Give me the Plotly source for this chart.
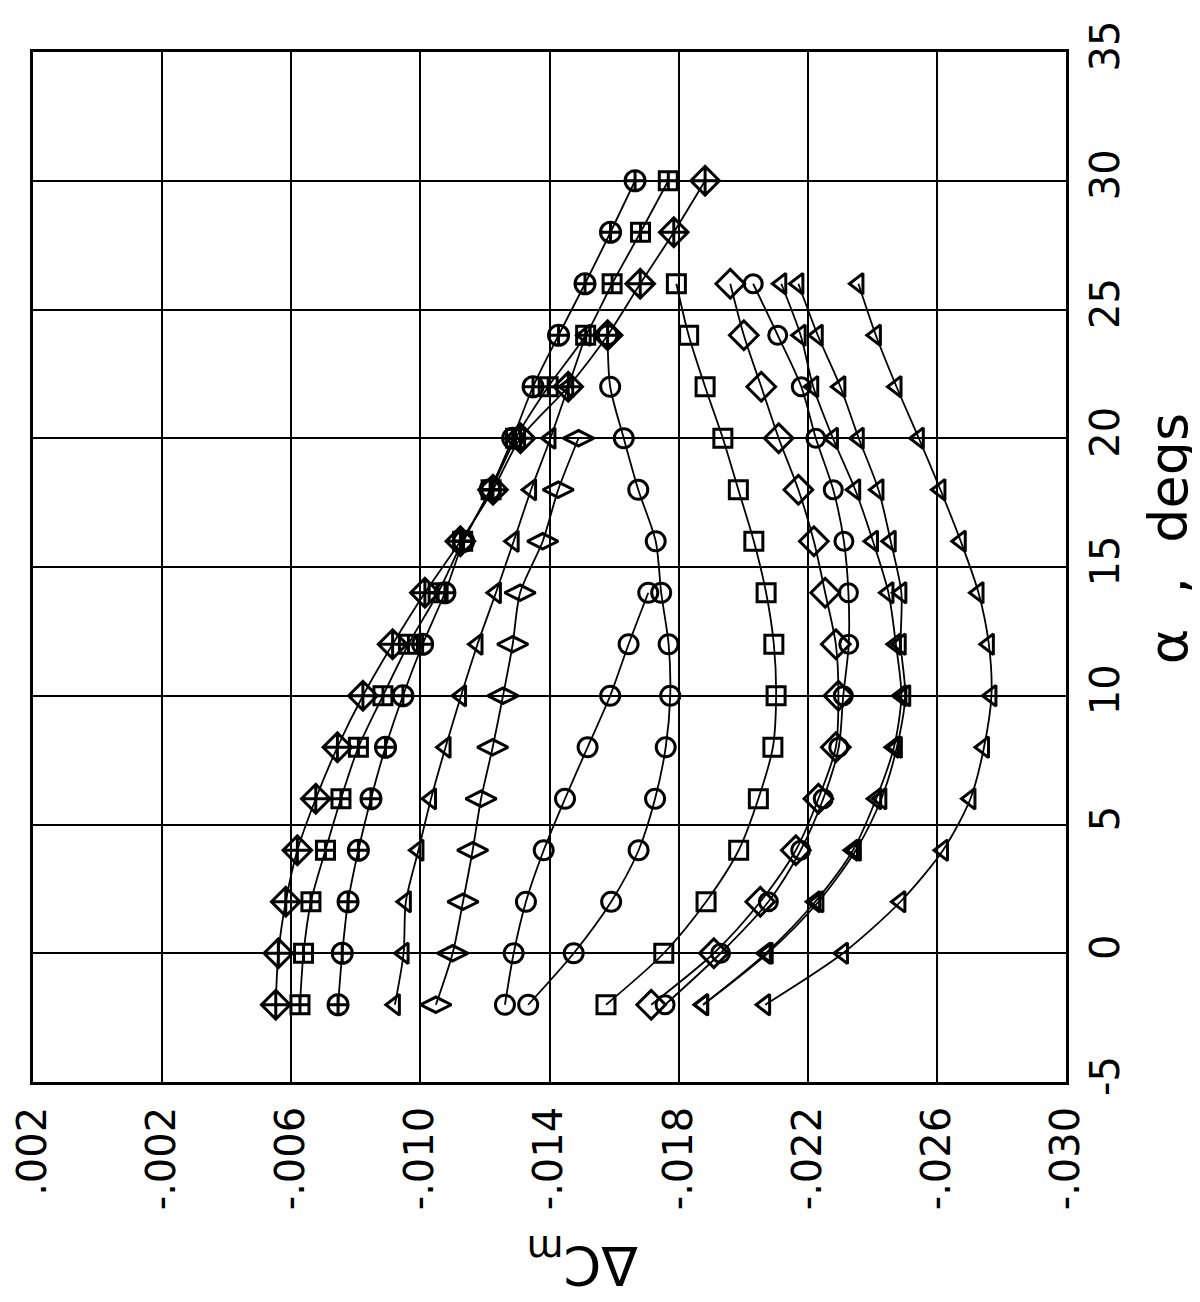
import plotly.graph_objects as go

# ---------------- data (alpha in degrees, delta Cm) ----------------
alpha_L = [-2, 0, 2, 4, 6, 8, 10, 12, 14, 16, 18, 20, 22, 24, 26, 28, 30]
dcm_L_circle = [-0.00745, -0.00758, -0.00776, -0.00808, -0.00847, -0.00892, -0.00946, -0.01007,
                -0.01076, -0.01134, -0.01216, -0.01286, -0.01349, -0.01428, -0.01510, -0.01589, -0.01665]
dcm_L_square = [-0.00627, -0.00638, -0.00661, -0.00706, -0.00754, -0.00808, -0.00884, -0.00963,
                -0.01055, -0.01131, -0.01219, -0.01295, -0.01396, -0.01512, -0.01594, -0.01682, -0.01768]
dcm_L_diamond = [-0.00552, -0.00560, -0.00583, -0.00619, -0.00676, -0.00743, -0.00822, -0.00914,
                 -0.01014, -0.01124, -0.01225, -0.01310, -0.01458, -0.01580, -0.01681, -0.01785, -0.01882]

alpha_M1 = [-2, 0, 2, 4, 6, 8, 10, 12, 14, 16, 18, 20, 22, 24]
dcm_M1 = [-0.00921, -0.00948, -0.00955, -0.00994, -0.01033, -0.01078, -0.01126, -0.01177,
          -0.01234, -0.01289, -0.01343, -0.01403, -0.01458, -0.01512]
alpha_M2 = [-2, 0, 2, 4, 6, 8, 10, 12, 14, 16, 18, 20]
dcm_M2 = [-0.01048, -0.01100, -0.01132, -0.01162, -0.01188, -0.01224, -0.01256, -0.01286,
          -0.01309, -0.01379, -0.01427, -0.01490]
alpha_M3 = [-2, 0, 2, 4, 6, 8, 10, 12, 14]
dcm_M3 = [-0.01262, -0.01289, -0.01327, -0.01382, -0.01448, -0.01518, -0.01588, -0.01645, -0.01706]
alpha_M4 = [-2, 0, 2, 4, 6, 8, 10, 12, 14, 16, 18, 20, 22, 24]
dcm_M4 = [-0.01334, -0.01475, -0.01591, -0.01676, -0.01727, -0.01760, -0.01774, -0.01769,
          -0.01746, -0.01729, -0.01675, -0.01630, -0.01588, -0.01580]

alpha_R = [-2, 0, 2, 4, 6, 8, 10, 12, 14, 16, 18, 20, 22, 24, 26]
dcm_R1 = [-0.01575, -0.01754, -0.01885, -0.01986, -0.02047, -0.02092, -0.02102, -0.02095,
          -0.02071, -0.02033, -0.01985, -0.01937, -0.01882, -0.01831, -0.01793]
dcm_R2 = [-0.01715, -0.01909, -0.02053, -0.02163, -0.02233, -0.02287, -0.02295, -0.02287,
          -0.02254, -0.02219, -0.02171, -0.02110, -0.02056, -0.02002, -0.01960]
dcm_R3 = [-0.01758, -0.01930, -0.02078, -0.02178, -0.02248, -0.02296, -0.02310, -0.02327,
          -0.02326, -0.02312, -0.02279, -0.02225, -0.02180, -0.02107, -0.02031]
dcm_R4 = [-0.01876, -0.02070, -0.02223, -0.02340, -0.02412, -0.02467, -0.02490, -0.02473,
          -0.02450, -0.02402, -0.02347, -0.02278, -0.02217, -0.02178, -0.02118]
dcm_R4b = [-0.01876, -0.02076, -0.02233, -0.02349, -0.02428, -0.02476, -0.02502, -0.02488,
           -0.02490, -0.02457, -0.02419, -0.02358, -0.02301, -0.02231, -0.02171]
dcm_R5 = [-0.02068, -0.02309, -0.02487, -0.02619, -0.02704, -0.02746, -0.02769, -0.02761,
          -0.02729, -0.02674, -0.02611, -0.02544, -0.02475, -0.02411, -0.02357]

x_tickvals = [0.002, -0.002, -0.006, -0.010, -0.014, -0.018, -0.022, -0.026, -0.030]
x_ticktext = [".002", "-.002", "-.006", "-.010", "-.014", "-.018", "-.022", "-.026", "-.030"]
y_tickvals = [-5, 0, 5, 10, 15, 20, 25, 30, 35]
y_ticktext = ["-5", "0", "5", "10", "15", "20", "25", "30", "35"]

series = [
    (dcm_L_circle, alpha_L, "circle-cross-open", 20),
    (dcm_L_square, alpha_L, "square-cross-open", 18),
    (dcm_L_diamond, alpha_L, "diamond-cross-open", 22),
    (dcm_M1, alpha_M1, "triangle-left-open", 18),
    (dcm_M2, alpha_M2, "diamond-wide-open", 22),
    (dcm_M3, alpha_M3, "circle-open", 19),
    (dcm_M4, alpha_M4, "circle-open", 19),
    (dcm_R1, alpha_R, "square-open", 18),
    (dcm_R2, alpha_R, "diamond-open", 22),
    (dcm_R3, alpha_R, "circle-open", 18),
    (dcm_R4, alpha_R, "triangle-left-open", 18),
    (dcm_R4b, alpha_R, "triangle-left-open", 18),
    (dcm_R5, alpha_R, "triangle-left-open", 18),
]

fig = go.Figure()
for xs, ys, sym, sz in series:
    fig.add_trace(go.Scatter(
        x=xs, y=ys, mode="lines+markers",
        line=dict(color="black", width=1.8, shape="spline", smoothing=0.8),
        marker=dict(symbol=sym, size=sz, color="black", line=dict(color="black", width=3)),
        showlegend=False, hoverinfo="skip"))

FONT = "DejaVu Sans, Liberation Sans, sans-serif"
tick_font = dict(family=FONT, size=40, color="black")

fig.update_layout(
    width=1192, height=1294,
    margin=dict(l=25, r=134, t=44, b=220, autoexpand=False),
    paper_bgcolor="white", plot_bgcolor="white",
    xaxis=dict(range=[0.002, -0.030], tickvals=x_tickvals, ticktext=x_ticktext,
               tickangle=-90, tickfont=tick_font, ticks="", ticklabelstandoff=6,
               automargin=False,
               showgrid=True, gridcolor="black", gridwidth=2.2, zeroline=False,
               showline=True, linecolor="black", linewidth=2.6, mirror=True),
    yaxis=dict(range=[-5, 35], tickvals=y_tickvals, ticktext=y_ticktext, side="right",
               tickangle=-90, tickfont=tick_font, ticks="", ticklabelstandoff=2,
               automargin=False,
               showgrid=True, gridcolor="black", gridwidth=2.2, zeroline=False,
               showline=True, linecolor="black", linewidth=2.6, mirror=True),
    annotations=[
        dict(text="α\u00a0\u00a0,\u00a0\u00a0degs", xref="paper", yref="paper", x=1.0, y=0.527,
             xshift=102, xanchor="center", yanchor="middle", showarrow=False, textangle=-90,
             font=dict(family=FONT, size=54, color="black")),
        dict(text="ΔC<sub>m</sub>", xref="paper", yref="paper", x=0.532, y=0.0,
             yshift=-180, xanchor="center", yanchor="middle", showarrow=False, textangle=180,
             font=dict(family=FONT, size=54, color="black")),
    ],
)

fig.write_html("out.html")
